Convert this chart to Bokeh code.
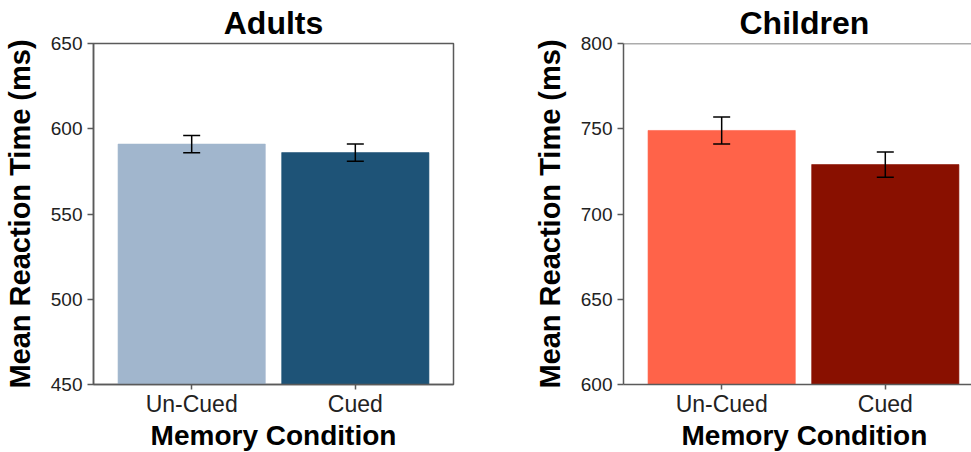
from bokeh.plotting import figure
from bokeh.models import (Range1d, FixedTicker, Whisker, TeeHead, ColumnDataSource, Span, Title)
from bokeh.layouts import row
from bokeh.embed import file_html
from bokeh.resources import INLINE

# ---- data ----
categories = ["Un-Cued", "Cued"]
adult_means = [591, 586]
adult_se = [5.1, 5.0]
child_means = [749, 729]
child_se = [7.9, 7.4]
adult_colors = ["#A1B6CD", "#1E5377"]
child_colors = ["#FF6349", "#891000"]
adult_yticks = [450, 500, 550, 600, 650]
child_yticks = [600, 650, 700, 750, 800]

FONT = "Liberation Sans"
AXIS_GRAY = "#5a5a5a"
FULL_SPAN = 2.2          # x span of a full panel (0.4 .. 2.6)
LEFT_FRAME_W = 361
PPU = LEFT_FRAME_W / FULL_SPAN
BORDER_L = 92
FIG_H = 452


def make_panel(title, means, se, colors, yticks, width, border_right, x_end, full_outline,
               title_offset=None, xlabel_offset=None):
    xs = [i + 1 for i in range(len(categories))]
    src = ColumnDataSource(dict(
        x=xs, top=means, color=colors,
        upper=[m + e for m, e in zip(means, se)],
        lower=[m - e for m, e in zip(means, se)],
    ))
    p = figure(width=width, height=FIG_H, output_backend="svg", toolbar_location=None,
               x_range=Range1d(0.4, x_end), y_range=Range1d(yticks[0], yticks[-1]),
               min_border_left=BORDER_L, min_border_right=border_right, min_border_top=43,
               min_border_bottom=68)
    p.vbar(x="x", top="top", bottom=yticks[0], width=0.9, fill_color="color",
           line_color="color", line_alpha=0.6, source=src)
    p.add_layout(Whisker(base="x", upper="upper", lower="lower", source=src, level="annotation",
                         line_color="black", line_width=1.5,
                         upper_head=TeeHead(size=17, line_color="black", line_width=1.5),
                         lower_head=TeeHead(size=17, line_color="black", line_width=1.5)))

    p.title.text = title
    p.title.text_font = FONT
    p.title.text_font_size = "32px"
    p.title.text_font_style = "bold"
    p.title.text_color = "black"
    p.title.standoff = 5
    if title_offset is None:
        p.title.align = "center"
    else:
        p.title.align = "left"
        p.title.offset = title_offset

    p.xgrid.visible = False
    p.ygrid.visible = False
    p.background_fill_color = "white"
    p.border_fill_color = "white"
    if full_outline:
        p.outline_line_color = AXIS_GRAY
        p.outline_line_width = 1.5
    else:
        p.outline_line_color = None
        p.add_layout(Span(location=yticks[-1], dimension="width",
                          line_color=AXIS_GRAY, line_width=1.5))

    xa = p.xaxis[0]
    xa.ticker = FixedTicker(ticks=xs)
    xa.major_label_overrides = {x: c for x, c in zip(xs, categories)}
    xa.axis_label = None
    ya = p.yaxis[0]
    ya.ticker = FixedTicker(ticks=yticks)
    ya.axis_label = "Mean Reaction Time (ms)"
    for ax in (xa, ya):
        ax.axis_line_color = AXIS_GRAY
        ax.axis_line_width = 1.5
        ax.major_tick_line_color = AXIS_GRAY
        ax.major_tick_line_width = 1.5
        ax.major_tick_in = 0
        ax.minor_tick_line_color = None
        ax.major_label_text_font = FONT
        ax.major_label_text_color = "#222222"
        ax.axis_label_text_font = FONT
        ax.axis_label_text_font_style = "bold"
        ax.axis_label_text_font_size = "29px"
        ax.axis_label_text_color = "black"
    xa.major_tick_out = 5
    xa.major_label_text_font_size = "23px"
    xa.major_label_standoff = 1
    xa.axis_label_standoff = 0
    ya.major_tick_out = 6
    ya.major_label_text_font_size = "19px"
    ya.major_label_standoff = 5
    ya.axis_label_standoff = 12

    xt = Title(text="Memory Condition", text_font=FONT, text_font_size="28px",
               text_font_style="bold", text_color="black", standoff=0,
               vertical_align="top")
    if xlabel_offset is None:
        xt.align = "center"
    else:
        xt.align = "left"
        xt.offset = xlabel_offset
    p.add_layout(xt, "below")
    return p


LEFT_W = 530
p1 = make_panel("Adults", adult_means, adult_se, adult_colors, adult_yticks,
                width=LEFT_W, border_right=LEFT_W - BORDER_L - LEFT_FRAME_W,
                x_end=0.4 + FULL_SPAN, full_outline=True)
RIGHT_W = 971 - LEFT_W
right_frame_w = RIGHT_W - BORDER_L
p2 = make_panel("Children", child_means, child_se, child_colors, child_yticks,
                width=RIGHT_W, border_right=0, x_end=0.4 + right_frame_w / PPU,
                full_outline=False, title_offset=116, xlabel_offset=58)

layout = row(p1, p2)
open("out.html", "w").write(file_html(layout, INLINE))
